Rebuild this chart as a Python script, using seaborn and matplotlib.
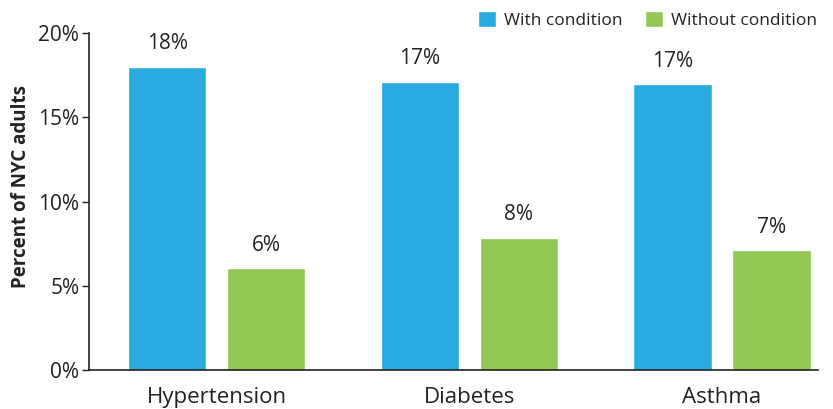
import matplotlib
matplotlib.use("Agg")
import matplotlib.pyplot as plt
import seaborn as sns
import pandas as pd

categories = ["Hypertension", "Diabetes", "Asthma"]
with_condition = [18.0, 17.1, 16.95]
without_condition = [6.05, 7.85, 7.1]
labels_with = ["18%", "17%", "17%"]
labels_without = ["6%", "8%", "7%"]
series_names = ["With condition", "Without condition"]
colors = ["#29ABE2", "#92C853"]

rows = []
for c, a, b in zip(categories, with_condition, without_condition):
    rows.append({"cat": c, "group": series_names[0], "val": a})
    rows.append({"cat": c, "group": series_names[1], "val": b})
df = pd.DataFrame(rows)

sns.set_style("white")
plt.rcParams["font.family"] = ["Open Sans", "DejaVu Sans"]

fig = plt.figure(figsize=(8.33, 4.09), dpi=100)
ax = fig.add_axes([89/833, (409-370)/409, (818-89)/833, (370-33)/409])
sns.barplot(data=df, x="cat", y="val", hue="group", hue_order=series_names,
            palette=colors, width=0.783, gap=0.21, ax=ax, saturation=1,
            legend=True)

for cont, labs in zip(ax.containers, [labels_with, labels_without]):
    ax.bar_label(cont, labels=labs, padding=9, fontsize=15, color="#222222")

ax.set_ylim(0, 20)
ax.set_xlim(-0.505, 2.38)
ax.set_yticks([0, 5, 10, 15, 20])
ax.set_yticklabels(["0%", "5%", "10%", "15%", "20%"], fontsize=15, color="#222222")
ax.tick_params(axis="y", length=5, width=1, color="#222222", left=True, pad=2)
ax.tick_params(axis="x", length=0, labelsize=16, labelcolor="#222222", pad=12)
ax.set_xlabel("")
ax.set_ylabel("Percent of NYC adults", fontsize=13.5, fontweight="bold", color="#222222")
ax.yaxis.set_label_coords(-0.08, 0.545)
for s in ["top", "right"]:
    ax.spines[s].set_visible(False)
for s in ["left", "bottom"]:
    ax.spines[s].set_color("#222222")
    ax.spines[s].set_linewidth(1.2)

leg = ax.legend(loc="upper right", bbox_to_anchor=(1.008, 1.085), ncol=2, frameon=False,
                fontsize=12.5, handlelength=1.05, handleheight=1.05, handletextpad=0.45,
                columnspacing=1.3, borderaxespad=0)
for t in leg.get_texts():
    t.set_color("#222222")

fig.savefig("out.png", dpi=100)
